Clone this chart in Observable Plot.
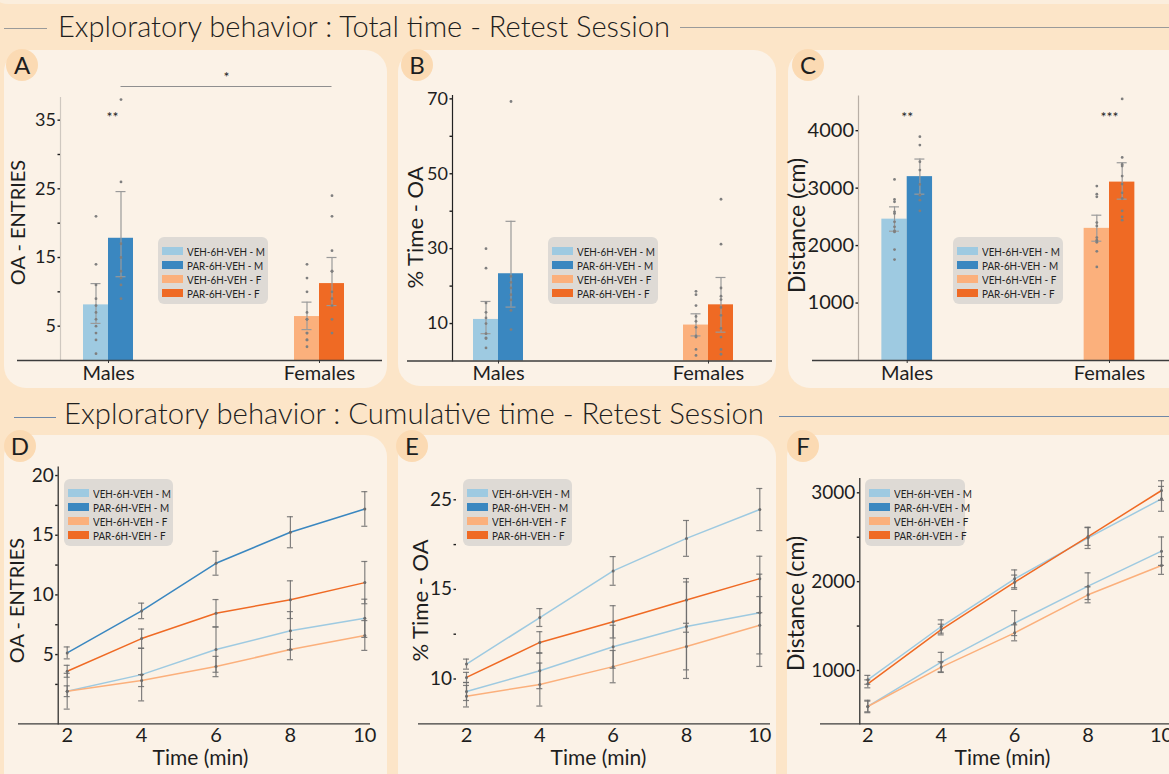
<!DOCTYPE html>
<html><head><meta charset="utf-8">
<script src="https://cdn.jsdelivr.net/npm/d3@7"></script>
<script src="https://cdn.jsdelivr.net/npm/@observablehq/plot@0.6"></script>
<style>
html,body{margin:0;padding:0;overflow:hidden;background:#fce5c8;}
#root{position:relative;width:1169px;height:774px;overflow:hidden;background:#fce5c8;font-family:Lato,"DejaVu Sans",sans-serif;color:#1e1e1e;}
.panel{position:absolute;background:#fbf2e7;border-radius:22px;}
.badge{position:absolute;width:32px;height:32px;border-radius:50%;background:#fbdab3;font-size:24px;line-height:32px;text-align:center;color:#1e1e1e;}
.hdr{position:absolute;font-size:29px;line-height:29px;font-weight:300;white-space:nowrap;transform-origin:0 50%;color:#1e1e1e;}
.hline{position:absolute;height:0;}
.chart{position:absolute;}
.legend{position:absolute;background:#dedad5;border-radius:6px;}
.lrow{position:absolute;left:0;height:10px;display:flex;align-items:center;}
.sw{width:21px;height:8px;}
.lt{font-size:12px;margin-left:4px;transform-origin:0 50%;transform:scaleX(.82);white-space:nowrap;color:#222;}
</style>
</head><body><div id="root"></div>
<script>
// ---------------- DATA ----------------
const groups = ["VEH-6H-VEH - M", "PAR-6H-VEH - M", "VEH-6H-VEH - F", "PAR-6H-VEH - F"];
const groupSex = ["Males", "Males", "Females", "Females"];
const groupTreat = ["VEH", "PAR", "VEH", "PAR"];
const sexes = ["Males", "Females"];

// A: OA entries (total)
const entriesMean = [8.1, 17.8, 6.4, 11.2];
const entriesLo = [5.4, 12.2, 4.5, 8.0];
const entriesHi = [11.2, 24.6, 8.5, 15.0];
const entriesPoints = [
  [21, 14, 11, 9, 8, 7, 6, 5, 4, 3, 1],
  [38, 26, 17, 15, 13, 12, 11, 9],
  [14, 12, 10, 7, 6, 6, 4, 4, 3, 3, 2],
  [24, 21, 16, 13, 13, 10, 9, 8, 6, 4]
];
const entriesStars = [{sex: "Males", y: 35.4, label: "**"}];
const entriesSig = [{from: "Males", to: "Females", y: 39.9, label: "*", starY: 41.2}];

// B: % time OA (total)
const timeMean = [11.1, 23.3, 9.6, 15.0];
const timeLo = [7.3, 14.4, 6.7, 7.7];
const timeHi = [15.9, 37.3, 12.6, 22.3];
const timePoints = [
  [30, 24.8, 15.5, 13, 11.5, 10, 7.3, 6.2, 6, 3.5],
  [69.3, 22.6, 21, 19.5, 17.7, 16.3, 13.5, 8.4],
  [18.6, 17.7, 14.8, 11.9, 10.6, 9, 6.7, 6.4, 3.1, 1.5],
  [43.2, 31.2, 19.5, 17.3, 16.4, 14.3, 12.2, 8.7, 6.4, 3.1, 1.8]
];

// C: distance (total)
const distMean = [2460, 3200, 2300, 3105];
const distLo = [2250, 2895, 2076, 2808];
const distHi = [2674, 3506, 2529, 3442];
const distPoints = [
  [3151, 2802, 2762, 2587, 2558, 2413, 2326, 2256, 2238, 1930, 1756],
  [3895, 3750, 3459, 3314, 3064, 2878, 2791, 2605],
  [3035, 2895, 2849, 2401, 2343, 2140, 2093, 2058, 1901, 1628],
  [4552, 3535, 3413, 3384, 3209, 3070, 2919, 2820, 2605, 2500, 2442]
];
const distStars = [{sex: "Males", y: 4230, label: "**"}, {sex: "Females", y: 4230, label: "***"}];

// D, E, F: cumulative time
const minutes = [2, 4, 6, 8, 10];
const cumEntriesMean = [
  [1.93, 3.32, 5.42, 7.0, 8.04],
  [5.14, 8.66, 12.65, 15.25, 17.2],
  [1.93, 2.82, 4.0, 5.42, 6.6],
  [3.6, 6.34, 8.46, 9.6, 11.03]
];
const cumEntriesErr = [
  [1.5, 2.2, 1.9, 1.6, 1.6],
  [0.5, 0.65, 1.0, 1.3, 1.45],
  [0.45, 0.5, 0.85, 0.85, 1.25],
  [0.5, 0.8, 1.15, 1.58, 1.77]
];
const cumTimeMean = [
  [9.3, 10.46, 11.8, 12.93, 13.7],
  [10.83, 13.43, 17.06, 20.69, 23.91],
  [9.04, 9.69, 10.69, 11.81, 13.0],
  [10.09, 12.04, 13.19, 14.41, 16.2]
];
const cumTimeErr = [
  [0.5, 1.0, 1.2, 2.9, 3.0],
  [0.28, 0.5, 1.6, 2.0, 2.35],
  [0.6, 1.2, 0.9, 1.3, 1.6],
  [0.28, 0.6, 0.9, 1.8, 2.5]
];
const cumTimeTickLabels = [10, 15, 25];
const cumTimeMinorTicks = [12.5, 20];
const cumDistMean = [
  [595, 1094, 1533, 1949, 2343],
  [895, 1495, 2032, 2493, 2932],
  [595, 1038, 1424, 1852, 2182],
  [850, 1461, 1994, 2508, 3026]
];
const cumDistErr = [
  [70, 110, 140, 150, 160],
  [50, 75, 100, 120, 140],
  [60, 60, 90, 90, 100],
  [45, 60, 80, 100, 110]
];

// ---------------- STYLE ----------------
const palette = ["#9ecae1", "#3a87c0", "#fbb07c", "#ef6a24"];
const paletteLight = ["#9ecae1", "#9ecae1", "#fbb07c", "#ef6a24"];
const FONT = "Lato, 'DejaVu Sans', sans-serif";
const root = document.getElementById("root");

function div(cls, css, text) {
  const d = document.createElement("div");
  d.className = cls;
  Object.assign(d.style, css);
  if (text != null) d.textContent = text;
  root.appendChild(d);
  return d;
}
const px = v => v + "px";

// background decorations
div("panel", {left: "-10px", top: "-40px", width: "1200px", height: "44px", borderRadius: "0 0 18px 18px", background: "#fbeedd"});
[[4, 50, 383, 338], [398, 50, 378, 336], [788, 50, 420, 338],
 [4, 435, 383, 370], [398, 435, 378, 370], [787, 435, 420, 370]].forEach(([l, t, w, h]) =>
  div("panel", {left: px(l), top: px(t), width: px(w), height: px(h)}));

const h1 = div("hdr", {left: "58px", top: "11px"}, "Exploratory behavior : Total time - Retest Session");
const h2 = div("hdr", {left: "64px", top: "398px"}, "Exploratory behavior : Cumulative time - Retest Session");
div("hline", {left: "4px", top: "28px", width: "43px", borderTop: "1.3px solid #9a9a9a"});
div("hline", {left: "680px", top: "27px", width: "489px", borderTop: "1.3px solid #9a9a9a"});
div("hline", {left: "14px", top: "417px", width: "42px", borderTop: "1.3px solid #6f88a8"});
div("hline", {left: "779px", top: "416px", width: "390px", borderTop: "1.3px solid #6f88a8"});
function fit() {
  [[h1, 612], [h2, 700]].forEach(([el, w]) => {
    el.style.transform = "none";
    const r = el.getBoundingClientRect().width;
    if (r > 0) el.style.transform = `scaleX(${w / r})`;
  });
}
fit();
if (document.fonts && document.fonts.ready) document.fonts.ready.then(fit);

[["A", 22, 65], ["B", 417, 65], ["C", 808, 65], ["D", 20, 446], ["E", 412, 446], ["F", 803, 446]]
  .forEach(([t, cx, cy]) => div("badge", {left: px(cx - 16), top: px(cy - 16)}, t));

// ---------------- CHART BUILDERS ----------------
function mount(svg, left, top) {
  const wrap = div("chart", {left: px(left), top: px(top)});
  wrap.appendChild(svg);
}
const plain = d => String(d);

function yLabelMark(text, L) {
  const midY = (L.mt + (L.h - L.mb)) / 2;
  return Plot.text([text], {text: d => d, frameAnchor: "left", textAnchor: "middle", lineAnchor: "middle", rotate: -90,
    dx: L.ylab[0] - L.ml, dy: L.ylab[1] - midY, fontSize: L.ylabSize, fill: "#1e1e1e"});
}

function barChart(mean, lo, hi, pts, L) {
  const rows = groups.map((g, i) => ({group: g, sex: groupSex[i], treat: groupTreat[i], mean: mean[i], lo: lo[i], hi: hi[i]}));
  const prow = pts.flatMap((a, i) => a.map(v => ({group: groups[i], sex: groupSex[i], treat: groupTreat[i], v})));
  const isV = d => d.treat === "VEH", isP = d => d.treat === "PAR";
  const bw = L.bw, q = bw / 4, cap = 5;
  const errC = "#9a9a9a";
  const marks = [];
  if (L.spine) marks.push(Plot.frame({anchor: "left", stroke: L.spine, strokeWidth: 1.2}));
  marks.push(
    Plot.barY(rows.filter(isV), {x: "sex", y: "mean", fill: "group", insetRight: bw / 2}),
    Plot.barY(rows.filter(isP), {x: "sex", y: "mean", fill: "group", insetLeft: bw / 2}),
    Plot.ruleY([L.yDomain[0]], {stroke: "#3c3c3c", strokeWidth: 1.3, insetLeft: L.baseLeft - L.ml}),
    Plot.ruleX(rows.filter(isV), {x: "sex", y1: "lo", y2: "hi", dx: -q, stroke: errC, strokeWidth: 1.2}),
    Plot.ruleX(rows.filter(isP), {x: "sex", y1: "lo", y2: "hi", dx: q, stroke: errC, strokeWidth: 1.2}),
    Plot.tickY(rows.filter(isV), {x: "sex", y: "lo", insetLeft: q - cap, insetRight: 3 * q - cap, stroke: errC, strokeWidth: 1.2}),
    Plot.tickY(rows.filter(isV), {x: "sex", y: "hi", insetLeft: q - cap, insetRight: 3 * q - cap, stroke: errC, strokeWidth: 1.2}),
    Plot.tickY(rows.filter(isP), {x: "sex", y: "lo", insetLeft: 3 * q - cap, insetRight: q - cap, stroke: errC, strokeWidth: 1.2}),
    Plot.tickY(rows.filter(isP), {x: "sex", y: "hi", insetLeft: 3 * q - cap, insetRight: q - cap, stroke: errC, strokeWidth: 1.2}),
    Plot.dot(prow.filter(isV), {x: "sex", y: "v", dx: -q, r: 1.4, fill: "#7f7f7f", stroke: "none"}),
    Plot.dot(prow.filter(isP), {x: "sex", y: "v", dx: q, r: 1.4, fill: "#7f7f7f", stroke: "none"}),
    Plot.axisX({tickSize: 3, tickPadding: 2, fontSize: 20, label: null, stroke: "#333"}),
    Plot.axisY({ticks: L.yTicks, tickFormat: plain, tickSize: 2.5, tickPadding: 2, fontSize: L.tickSize, label: null, strokeWidth: 1.4}),
    yLabelMark(L.ylabel, L)
  );
  if (L.yMinor) marks.push(Plot.axisY({ticks: L.yMinor, tickSize: 2.5, tickFormat: () => "", label: null, strokeWidth: 1.4}));
  if (L.stars) marks.push(Plot.text(L.stars, {x: "sex", y: "y", text: "label", dx: L.starDx || 0, fontSize: 14, fill: "#222"}));
  if (L.sig) {
    marks.push(
      Plot.ruleY(L.sig, {y: "y", x1: "from", x2: "to", insetLeft: 3 * q, insetRight: q, stroke: "#8f8f8f", strokeWidth: 1}),
      Plot.text(L.sig, {x: "from", y: "starY", text: "label", dx: (L.c2 - L.c1) / 2 + q, fontSize: 14, fill: "#222"})
    );
  }
  return Plot.plot({
    width: L.w, height: L.h, marginLeft: L.ml, marginRight: L.mr, marginTop: L.mt, marginBottom: L.mb,
    x: {type: "band", domain: sexes, range: [L.c1 - bw / 2, L.c2 + bw / 2], paddingInner: 1 - bw / (L.c2 - L.c1), paddingOuter: 0, round: false},
    y: {domain: L.yDomain},
    color: {domain: groups, range: palette},
    style: {fontFamily: FONT, fontSize: "18px", color: "#1e1e1e", background: "transparent", overflow: "visible"},
    marks
  });
}

function lineChart(mean, err, L, colors) {
  const rows = groups.flatMap((g, i) => minutes.map((t, j) => ({group: g, t, v: mean[i][j], lo: mean[i][j] - err[i][j], hi: mean[i][j] + err[i][j]})));
  const errC = "#6c6c6c";
  // axis ticks live in the scale's (possibly transformed) space; labels keep the data values
  const tf = L.yTransform || (v => v);
  const tickPos = L.yTicks.map(tf);
  const minorPos = L.yMinor.map(tf);
  const tickLabel = t => String(L.yTicks[tickPos.indexOf(t)]);
  const marks = [];
  if (L.spine) marks.push(Plot.frame({anchor: "left", stroke: L.spine, strokeWidth: 1.2}));
  marks.push(
    Plot.ruleY([L.base], {stroke: "#3c3c3c", strokeWidth: 1.3, insetLeft: L.baseLeft - L.ml}),
    Plot.line(rows, {x: "t", y: "v", z: "group", stroke: "group", strokeWidth: 1.5}),
    Plot.ruleX(rows, {x: "t", y1: "lo", y2: "hi", stroke: errC, strokeWidth: 1.2, strokeOpacity: 0.85}),
    Plot.ruleY(rows, {y: "lo", x1: "t", x2: "t", insetLeft: -3, insetRight: -3, stroke: errC, strokeWidth: 1.2, strokeOpacity: 0.85}),
    Plot.ruleY(rows, {y: "hi", x1: "t", x2: "t", insetLeft: -3, insetRight: -3, stroke: errC, strokeWidth: 1.2, strokeOpacity: 0.85}),
    Plot.dot(rows, {x: "t", y: "v", r: 1.5, fill: errC, stroke: "none"}),
    Plot.axisX({ticks: minutes, tickFormat: plain, tickSize: 0, tickPadding: 4, fontSize: 20, label: null}),
    Plot.axisY({ticks: tickPos, tickFormat: tickLabel, tickSize: 2.5, tickPadding: 2, fontSize: 19, label: null, strokeWidth: 1.4}),
    Plot.axisY({ticks: minorPos, tickSize: 2.5, tickFormat: () => "", label: null, strokeWidth: 1.4}),
    yLabelMark(L.ylabel, L),
    Plot.text(["Time (min)"], {text: d => d, frameAnchor: "bottom", textAnchor: "middle", lineAnchor: "middle",
      dx: L.xlab[0] - (L.ml + L.w - L.mr) / 2, dy: L.xlab[1] - (L.h - L.mb), fontSize: 21, fill: "#1e1e1e"})
  );
  const y = {};
  if (L.yDomain) y.domain = L.yDomain;
  if (L.yTransform) y.transform = L.yTransform;
  return Plot.plot({
    width: L.w, height: L.h, marginLeft: L.ml, marginRight: L.mr, marginTop: L.mt, marginBottom: L.mb,
    x: {domain: [minutes[0], minutes[minutes.length - 1]], range: L.xRange},
    y,
    color: {domain: groups, range: colors},
    style: {fontFamily: FONT, fontSize: "19px", color: "#1e1e1e", background: "transparent", overflow: "visible"},
    marks
  });
}

function legend(left, top, w) {
  const box = div("legend", {left: px(left), top: px(top), width: px(w), height: "67px"});
  groups.forEach((g, i) => {
    const row = document.createElement("div");
    row.className = "lrow";
    row.style.top = px(14 * i + 9);
    row.style.left = "4px";
    const sw = document.createElement("div");
    sw.className = "sw"; sw.style.background = palette[i];
    const t = document.createElement("div");
    t.className = "lt"; t.textContent = g;
    row.appendChild(sw); row.appendChild(t);
    box.appendChild(row);
  });
}

// ---------------- PANELS ----------------
mount(barChart(entriesMean, entriesLo, entriesHi, entriesPoints, {
  w: 390, h: 350, ml: 60, mr: 8, mt: 57, mb: 30, c1: 108, c2: 319, bw: 50, baseLeft: 17,
  yDomain: [0, 38.3], yTicks: [5, 15, 25, 35], yMinor: [10, 20, 30], tickSize: 18,
  spine: "#cfc8c0", ylabel: "OA - ENTRIES", ylab: [18, 182], ylabSize: 20,
  stars: entriesStars, starDx: 4, sig: entriesSig
}), 0, 40);

mount(barChart(timeMean, timeLo, timeHi, timePoints, {
  w: 390, h: 350, ml: 62, mr: 8, mt: 55, mb: 29.5, c1: 108, c2: 318, bw: 50, baseLeft: 17,
  yDomain: [0, 70.9], yTicks: [10, 30, 50, 70], yMinor: [20, 40, 60], tickSize: 18,
  spine: "#222", ylabel: "% Time - OA", ylab: [25, 187], ylabSize: 22
}), 390, 40);

mount(barChart(distMean, distLo, distHi, distPoints, {
  w: 389, h: 350, ml: 78, mr: 0, mt: 55.7, mb: 30, c1: 126.7, c2: 329, bw: 50.7, baseLeft: 32,
  yDomain: [0, 4600], yTicks: [1000, 2000, 3000, 4000], yMinor: null, tickSize: 20,
  spine: "#b8afa6", ylabel: "Distance (cm)", ylab: [17, 185], ylabSize: 23,
  stars: distStars
}), 780, 40);

mount(lineChart(cumEntriesMean, cumEntriesErr, {
  w: 390, h: 344, ml: 57.7, mr: 20, mt: 36.7, mb: 50.7, baseLeft: 18, xRange: [66.7, 364.3],
  yDomain: [-0.8, 20.7], base: -0.8, yTicks: [5, 10, 15, 20], yMinor: [2.5, 7.5, 12.5, 17.5],
  spine: "#222", ylabel: "OA - ENTRIES", ylab: [17, 170], ylabSize: 20, xlab: [200, 328]
}, palette), 0, 430);

// Panel E's axis is drawn with evenly spaced ticks labelled 10, (12.5), 15, (20), 25
mount(lineChart(cumTimeMean, cumTimeErr, {
  w: 390, h: 344, ml: 66, mr: 10, mt: 58, mb: 50.7, baseLeft: 28, xRange: [76, 369.3],
  base: 7.5, yTransform: v => v <= 15 ? (v - 10) / 2.5 : 2 + (v - 15) / 5,
  yTicks: cumTimeTickLabels, yMinor: cumTimeMinorTicks,
  spine: null, ylabel: "% Time - OA", ylab: [30, 170], ylabSize: 22, xlab: [208, 328]
}, paletteLight), 390, 430);

mount(lineChart(cumDistMean, cumDistErr, {
  w: 389, h: 344, ml: 79.3, mr: 0, mt: 48, mb: 50.7, baseLeft: 40, xRange: [87.3, 381],
  yDomain: [400, 3161], base: 400, yTicks: [1000, 2000, 3000], yMinor: [1500, 2500],
  spine: "#222", ylabel: "Distance (cm)", ylab: [16, 173], ylabSize: 23, xlab: [222, 328]
}, paletteLight), 780, 430);

legend(158, 237, 110);
legend(548, 237, 110);
legend(953, 237, 110);
legend(64, 479, 109);
legend(463, 479, 109);
legend(865, 479, 100);
</script>
</body></html>
